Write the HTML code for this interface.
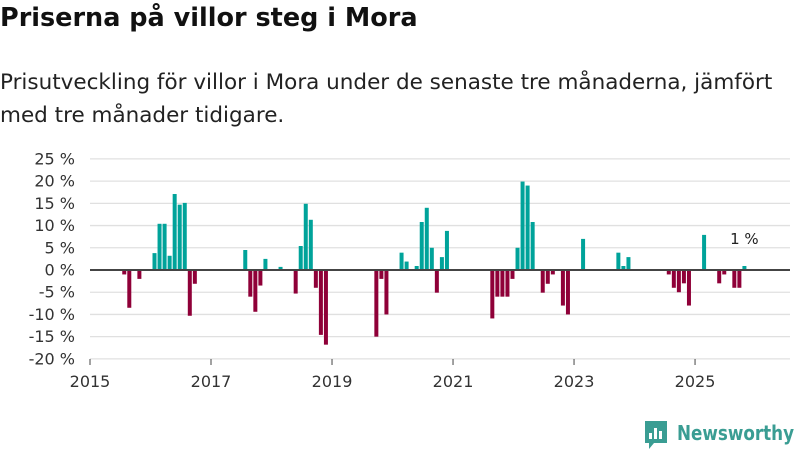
<!DOCTYPE html>
<html><head><meta charset="utf-8"><style>
body{margin:0;width:800px;height:450px;background:#fff;font-family:"Liberation Sans","DejaVu Sans",sans-serif;overflow:hidden;position:relative}
h1{position:absolute;left:0;top:3px;margin:0;font-size:25.5px;font-weight:bold;color:#111;font-family:"DejaVu Sans","Liberation Sans",sans-serif;letter-spacing:0}
p{position:absolute;left:0;top:66px;margin:0;font-size:21.5px;line-height:33px;color:#222;width:800px;white-space:nowrap;font-family:"DejaVu Sans","Liberation Sans",sans-serif;letter-spacing:0}
svg{position:absolute;left:0;top:0}
</style></head><body>
<h1>Priserna på villor steg i Mora</h1>
<p>Prisutveckling för villor i Mora under de senaste tre månaderna, jämfört<br>med tre månader tidigare.</p>
<svg id="chart" width="800" height="450"></svg>
<script>
const months=[6,7,9,12,13,14,15,16,17,18,19,20,30,31,32,33,34,37,40,41,42,43,44,45,46,56,57,58,61,62,64,65,66,67,68,69,70,79,80,81,82,83,84,85,86,87,89,90,91,93,94,97,104,105,106,114,115,116,117,118,121,124,125,127,128,129];
const values=[-1,-8.5,-2,3.8,10.4,10.4,3.2,17.1,14.7,15.1,-10.3,-3.1,4.5,-6,-9.4,-3.5,2.5,0.7,-5.3,5.4,14.9,11.3,-4,-14.6,-16.8,-15,-2,-10,3.9,1.9,0.9,10.8,14,5,-5.1,2.9,8.8,-10.9,-6,-6,-6,-2,5,19.9,19,10.8,-5.1,-3.1,-1,-8,-10,7,3.9,0.9,2.9,-1,-4,-5,-3,-8,7.9,-3,-1,-4,-4,0.9];
const yTicks=[25,20,15,10,5,0,-5,-10,-15,-20];
const xTicks=[2015,2017,2019,2021,2023,2025];
const NS="http://www.w3.org/2000/svg";
const svg=document.getElementById('chart');
const x=m=>90+m*5.042;
const y=v=>270-v*4.444;
function mk(t,a){const e=document.createElementNS(NS,t);for(const k in a)e.setAttribute(k,a[k]);svg.appendChild(e);return e;}
yTicks.forEach(v=>{
  const g=mk('line',{x1:90,x2:790,y1:y(v),y2:y(v),stroke:'#e0e0e0','stroke-width':1.3});
  
  
  const t=mk('text',{x:75,y:y(v)+5.5,'text-anchor':'end','font-size':16,fill:'#333','font-family':'"DejaVu Sans","Liberation Sans",sans-serif'});
  t.textContent=v+' %';
  
  
});
xTicks.forEach(yr=>{
  const px=x((yr-2015)*12);
  const l=mk('line',{x1:px,x2:px,y1:359,y2:365,stroke:'#444','stroke-width':1});
  
  
  const t=mk('text',{x:px,y:387,'text-anchor':'middle','font-size':16,fill:'#333','font-family':'"DejaVu Sans","Liberation Sans",sans-serif'});
  t.textContent=yr;
  
  
});
months.forEach((m,i)=>{
  const v=values[i];
  const b=mk('rect',{x:x(m)+2,width:4,y:Math.min(y(v),y(0)),height:Math.abs(y(v)-y(0)),fill:v>=0?'#00a39a':'#8f0038'});
  
  
});
const z=mk('line',{x1:90,x2:790,y1:y(0),y2:y(0),stroke:'#444','stroke-width':2});


const lab=mk('text',{x:x(months[months.length-1])+4,y:y(values[values.length-1])-22,'text-anchor':'middle','font-size':15,fill:'#222','font-family':'"DejaVu Sans","Liberation Sans",sans-serif'});
lab.textContent=Math.round(values[values.length-1])+' %';


const logo=mk('g',{});


const r=document.createElementNS(NS,'path');
r.setAttribute('d','M645 421 h22 v22 h-13 l-5 6 v-6 h-4 z');r.setAttribute('fill','#3a9d93');logo.appendChild(r);
[[649,433,3,6],[654,428,3,11],[659,431,3,8]].forEach(a=>{const q=document.createElementNS(NS,'rect');q.setAttribute('x',a[0]);q.setAttribute('y',a[1]);q.setAttribute('width',a[2]);q.setAttribute('height',a[3]);q.setAttribute('fill','#fff');logo.appendChild(q);});
const lt=document.createElementNS(NS,'text');
lt.setAttribute('x',677);lt.setAttribute('y',440);lt.setAttribute('font-size',20);lt.setAttribute('font-weight','bold');lt.setAttribute('fill','#3a9d93');lt.setAttribute('font-family','"DejaVu Sans","Liberation Sans",sans-serif');
lt.setAttribute('textLength',117);lt.setAttribute('lengthAdjust','spacingAndGlyphs');
lt.textContent='Newsworthy';logo.appendChild(lt);
svg.appendChild(logo);
</script>
</body></html>
